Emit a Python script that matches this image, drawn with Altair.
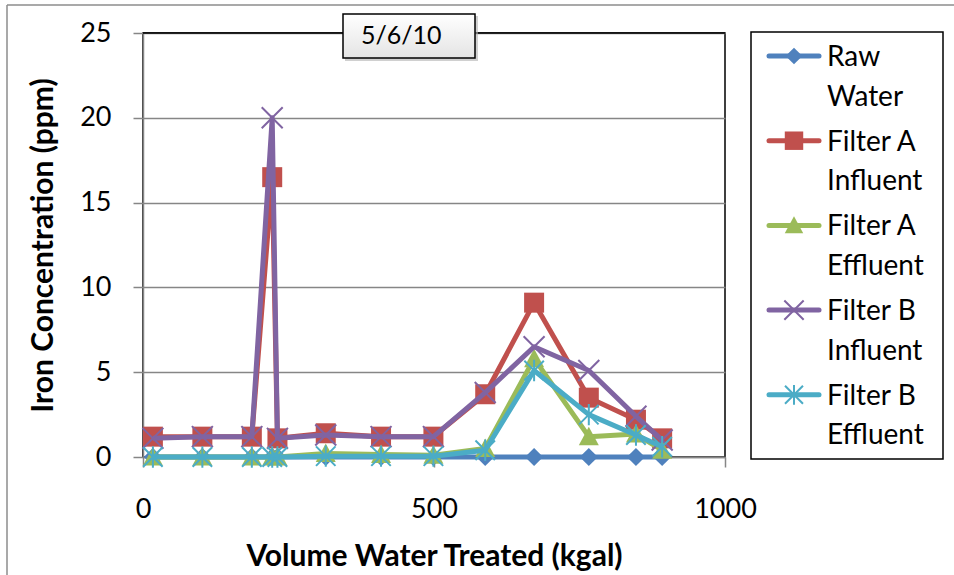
import altair as alt
import pandas as pd

# ---- data ----
volume = [17, 102, 187, 222, 231, 314, 409, 499, 588, 672, 766, 847, 892]
raw_water = [0, 0, 0, 0, 0, 0, 0, 0, 0, 0, 0, 0, 0]
filter_a_influent = [1.2, 1.2, 1.2, 16.5, 1.1, 1.4, 1.2, 1.2, 3.7, 9.1, 3.5, 2.2, 1.1]
filter_a_effluent = [0, 0, 0, 0, 0, 0.2, 0.15, 0.1, 0.5, 5.8, 1.2, 1.35, 0.4]
filter_b_influent = [1.1, 1.2, 1.2, 20.0, 1.1, 1.3, 1.2, 1.2, 3.8, 6.5, 5.1, 2.4, 1.0]
filter_b_effluent = [0, 0, 0, 0, 0, 0.05, 0.05, 0.05, 0.4, 5.1, 2.5, 1.3, 0.6]

series_names = ["Raw Water", "Filter A Influent", "Filter A Effluent",
                "Filter B Influent", "Filter B Effluent"]
legend_labels = ["Raw\nWater", "Filter A\nInfluent", "Filter A\nEffluent",
                 "Filter B\nInfluent", "Filter B\nEffluent"]
series_values = [raw_water, filter_a_influent, filter_a_effluent,
                 filter_b_influent, filter_b_effluent]
chart_title = "5/6/10"
x_ticks = [0, 500, 1000]
y_ticks = [0, 5, 10, 15, 20, 25]

# ---- styles ----
colors = ["#4F81BD", "#C0504D", "#9BBB59", "#8064A2", "#4BACC6"]
shapes = [
    ("M0,-1L1,0L0,1L-1,0Z", True, 330),
    ("M-1,-1H1V1H-1Z", True, 400),
    ("M0,-1L1,0.85L-1,0.85Z", True, 400),
    ("M-1,-1L1,1M-1,1L1,-1", False, 440),
    ("M-1,-1L1,1M-1,1L1,-1M0,-1.1L0,1.1", False, 380),
]
FONT = "Lato"
W, H = 582, 424

rows = []
for name, vals in zip(series_names, series_values):
    for x, y in zip(volume, vals):
        rows.append({"series": name, "volume": x, "iron": y})
df = pd.DataFrame(rows)

x_enc = alt.X("volume:Q", scale=alt.Scale(domain=[0, 1000]),
              axis=alt.Axis(values=x_ticks, grid=False, title="Volume Water Treated (kgal)",
                            format="d", labelFlush=False,
                            titleY=108, titleBaseline="alphabetic",
                            labelBaseline="alphabetic", labelPadding=50))
y_enc = alt.Y("iron:Q", scale=alt.Scale(domain=[0, 25]),
              axis=alt.Axis(values=y_ticks, grid=True, title="Iron Concentration (ppm)",
                            titleX=-91, titleY=H / 2, titleBaseline="alphabetic",
                            labelPadding=22))

layers = []
for i, name in enumerate(series_names):
    sub = df[df["series"] == name]
    base = alt.Chart(sub)
    layers.append(base.mark_line(color=colors[i], strokeWidth=5, strokeJoin="round")
                  .encode(x=x_enc, y=y_enc))
    path, filled, size = shapes[i]
    if filled:
        pt = base.mark_point(shape=path, filled=True, color=colors[i], size=size, opacity=1)
    else:
        pt = base.mark_point(shape=path, filled=False, color=colors[i], size=size,
                             strokeWidth=2, opacity=1)
    layers.append(pt.encode(x=x_enc, y=y_enc))

# black top border of the plot area
top_df = pd.DataFrame({"k": [0]})
layers.append(alt.Chart(top_df).mark_rule(color="black", strokeWidth=1.5)
              .encode(y=alt.value(0)))

# outer chart border (left + top)
layers.append(alt.Chart(top_df).mark_rule(color="#8c8c8c", strokeWidth=1.5)
              .encode(x=alt.value(-136), y=alt.value(-28), y2=alt.value(H + 120)))
layers.append(alt.Chart(top_df).mark_rule(color="#8c8c8c", strokeWidth=1.5)
              .encode(x=alt.value(-136), x2=alt.value(W + 240), y=alt.value(-28)))

# title box
title_df = pd.DataFrame({"t": [chart_title]})
layers.append(alt.Chart(title_df).mark_rect(fill="#b0b0b0", opacity=0.6)
              .encode(x=alt.value(202), x2=alt.value(335), y=alt.value(-17), y2=alt.value(28)))
layers.append(alt.Chart(title_df).mark_rect(
    fill=alt.Gradient(gradient="linear", stops=[alt.GradientStop(color="#ffffff", offset=0),
                                                 alt.GradientStop(color="#e4e4e4", offset=1)],
                      x1=0, y1=0, x2=0, y2=1),
    stroke="black", strokeWidth=1.5)
    .encode(x=alt.value(200), x2=alt.value(332), y=alt.value(-19), y2=alt.value(25)))
layers.append(alt.Chart(title_df).mark_text(align="left", baseline="middle", fontSize=25,
                                            font=FONT, color="black")
              .encode(x=alt.value(218), y=alt.value(3), text="t:N"))

# legend box
leg_df = pd.DataFrame({"series": series_names, "label": legend_labels})
layers.append(alt.Chart(top_df).mark_rect(fill="white", stroke="black", strokeWidth=1.5)
              .encode(x=alt.value(608), x2=alt.value(800), y=alt.value(-1), y2=alt.value(426)))
for i, name in enumerate(series_names):
    ly = 23 + 84.7 * i
    sub = leg_df[leg_df["series"] == name]
    lb = alt.Chart(sub)
    layers.append(lb.mark_rule(color=colors[i], strokeWidth=5, strokeCap="round")
                  .encode(x=alt.value(626), x2=alt.value(676), y=alt.value(ly)))
    path, filled, size = shapes[i]
    if filled:
        pt = lb.mark_point(shape=path, filled=True, color=colors[i], size=size * 0.85, opacity=1)
    else:
        pt = lb.mark_point(shape=path, filled=False, color=colors[i], size=size * 0.85,
                           strokeWidth=2, opacity=1)
    layers.append(pt.encode(x=alt.value(651), y=alt.value(ly)))
    layers.append(lb.mark_text(align="left", baseline="alphabetic", dy=10, fontSize=28,
                               font=FONT, color="black", lineBreak="\n", lineHeight=39.5)
                  .encode(x=alt.value(684), y=alt.value(ly), text="label:N"))

chart = alt.layer(*layers).properties(
    width=W, height=H,
    autosize=alt.AutoSizeParams(type="none"),
    padding={"left": 143, "top": 33, "right": 954 - 143 - W, "bottom": 575 - 33 - H},
    background="white",
).configure_view(stroke="black", strokeWidth=1.5).configure_axis(
    domainColor="#868686", domainWidth=1.5, tickColor="#868686", tickWidth=1.5, tickSize=10,
    gridColor="#868686", gridWidth=1.5, labelFont=FONT, labelFontSize=27, labelColor="black",
    titleFont=FONT, titleFontSize=30, titleFontWeight="bold", titleColor="black",
)

chart.save("out.html", embed_options={"renderer": "svg", "actions": False})
